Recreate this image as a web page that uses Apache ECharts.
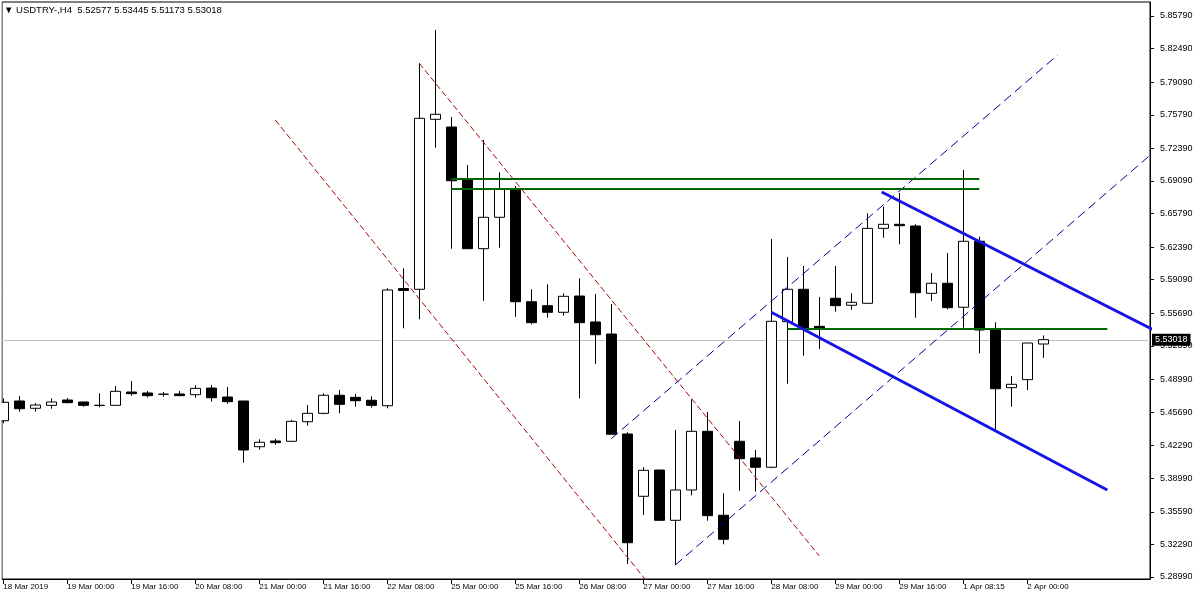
<!DOCTYPE html>
<html><head><meta charset="utf-8">
<script src="https://cdn.jsdelivr.net/npm/echarts@6/dist/echarts.min.js"></script>
<style>html,body{margin:0;padding:0;background:#fff}#c{width:1200px;height:600px}</style>
</head><body><div id="c"></div>
<script>
// ---- candle values (H4 bars, oldest first) ----
const opens = [5.4481,5.4681,5.4607,5.4637,5.4691,5.4671,5.4635,5.4637,5.4772,5.4762,
5.4749,5.4752,5.4745,5.4812,5.4721,5.4681,5.4218,5.4276,5.4273,5.4471,
5.4556,5.4739,5.4718,5.4688,5.4633,5.5820,5.5812,5.7533,5.7455,5.6926,
5.6223,5.6541,5.6824,5.5686,5.5646,5.5579,5.5744,5.5481,5.5359,5.4347,
5.3716,5.3982,5.3473,5.3780,5.4374,5.3524,5.4273,5.4104,5.4010,5.5484,
5.5812,5.5437,5.5721,5.5650,5.5670,5.6429,5.6470,5.6453,5.5771,5.5873,
5.5630,5.6298,5.5400,5.4816,5.4897,5.52577];
const closes = [5.4668,5.4603,5.4640,5.4671,5.4664,5.4637,5.4638,5.4779,5.4755,5.4735,
5.4750,5.4735,5.4809,5.4714,5.4674,5.4185,5.4263,5.4259,5.4475,5.4556,
5.4739,5.4647,5.4684,5.4637,5.5805,5.5800,5.7543,5.7584,5.6911,5.6223,
5.6541,5.6824,5.5686,5.5474,5.5579,5.5741,5.5474,5.5352,5.4344,5.3246,
5.3979,5.3473,5.3780,5.4374,5.3520,5.3281,5.4097,5.4010,5.5488,5.5812,
5.5417,5.5420,5.5646,5.5680,5.6429,5.6470,5.6456,5.5777,5.5873,5.5626,
5.6298,5.5400,5.4805,5.4850,5.5268,5.53018];
const lows = [5.4455,5.4573,5.4573,5.4603,5.4656,5.4623,5.4617,5.4635,5.4735,5.4718,
5.4724,5.4735,5.4714,5.4674,5.4654,5.4056,5.4188,5.4238,5.4266,5.4431,
5.4546,5.4556,5.4623,5.4613,5.4607,5.5417,5.5508,5.7246,5.6223,5.6223,
5.5696,5.6233,5.5534,5.5457,5.5524,5.5545,5.4708,5.5056,5.4344,5.3031,
5.3527,5.3473,5.3020,5.3726,5.3469,5.3230,5.3773,5.3763,5.4000,5.4856,
5.5140,5.5207,5.5585,5.5605,5.5666,5.6334,5.6267,5.5524,5.5693,5.5609,
5.5423,5.5164,5.4380,5.4623,5.4792,5.51173];
const highs = [5.4708,5.4732,5.4661,5.4708,5.4711,5.4671,5.4759,5.4833,5.4883,5.4782,
5.4772,5.4782,5.4843,5.4843,5.4823,5.4681,5.4293,5.4299,5.4489,5.4640,
5.4759,5.4792,5.4752,5.4728,5.5822,5.6024,5.8100,5.8437,5.7556,5.7070,
5.7324,5.6996,5.6858,5.5812,5.5862,5.5771,5.5923,5.5764,5.5663,5.4364,
5.4010,5.3982,5.4387,5.4698,5.4570,5.3746,5.4478,5.4185,5.6321,5.6139,
5.6048,5.5734,5.6048,5.5771,5.6581,5.6648,5.6787,5.6470,5.5977,5.6179,
5.7020,5.6344,5.5478,5.4934,5.5268,5.53445];

// ---- axis ticks ----
const xTickIndex = [0,4,8,12,16,20,24,28,32,36,40,44,48,52,56,60,64];
const xTickLabels = ['18 Mar 2019','19 Mar 00:00','19 Mar 16:00','20 Mar 08:00','21 Mar 00:00',
'21 Mar 16:00','22 Mar 08:00','25 Mar 00:00','25 Mar 16:00','26 Mar 08:00','27 Mar 00:00',
'27 Mar 16:00','28 Mar 08:00','29 Mar 00:00','29 Mar 16:00','1 Apr 08:15','2 Apr 00:00'];
const yTickValues = [5.85790,5.82490,5.79090,5.75790,5.72390,5.69090,5.65790,5.62390,5.59090,
5.55690,5.52390,5.48990,5.45690,5.42290,5.38990,5.35590,5.32290,5.28990];
const yRange = [5.287863, 5.872075];
const xRange = [-0.08125, 71.66875];

// ---- drawn objects: [bar index, price] ----
const redDash1 = [[17, 5.7526], [40.2, 5.2859]];
const redDash2 = [[26, 5.8100], [51, 5.3112]];
const blueDash1 = [[38, 5.4300], [65.9, 5.8184]];
const blueDash2 = [[42, 5.3020], [72, 5.7215]];
const blueSolidUpper = [[54.9, 5.6797], [72, 5.5391]];
const blueSolidLower = [[48, 5.5579], [69, 5.3780]];
const greenLevel1 = [[28, 5.6929], [61, 5.6929]];
const greenLevel2 = [[28, 5.6827], [61, 5.6827]];
const greenLevel3 = [[49, 5.5410], [69, 5.5410]];

const headerText = '\u25BC USDTRY-,H4  5.52577 5.53445 5.51173 5.53018';
const lastClose = closes[closes.length - 1];

const FONT = '"Liberation Sans", "DejaVu Sans", sans-serif';
const candles = opens.map((o, i) => [i, o, closes[i], lows[i], highs[i]]);

function seg(pts, color, width, type) {
  return { type: 'line', data: pts, symbol: 'none', silent: true, clip: true, z: 3,
    animation: false, lineStyle: { color: color, width: width, type: type } };
}

const chart = echarts.init(document.getElementById('c'), null, { renderer: 'canvas' });
chart.setOption({
  animation: false,
  backgroundColor: '#ffffff',
  grid: { left: 2, top: 2, right: 50, bottom: 21, show: true, borderColor: '#000', borderWidth: 1, backgroundColor: 'transparent' },
  xAxis: {
    type: 'value', min: xRange[0], max: xRange[1],
    splitLine: { show: false },
    axisLine: { show: true, onZero: false, lineStyle: { color: '#000', width: 1 } },
    axisTick: { show: true, inside: false, length: 5, customValues: xTickIndex, lineStyle: { color: '#000' } },
    axisLabel: { customValues: xTickIndex, align: 'left', margin: 4, fontSize: 8, fontFamily: FONT, color: '#000',
      formatter: v => { const k = xTickIndex.indexOf(Math.round(v)); return k >= 0 ? xTickLabels[k] : ''; } }
  },
  yAxis: {
    type: 'value', position: 'right', min: yRange[0], max: yRange[1],
    splitLine: { show: false },
    axisLine: { show: true, onZero: false, lineStyle: { color: '#000', width: 1 } },
    axisTick: { show: true, inside: false, length: 4, customValues: yTickValues, lineStyle: { color: '#000' } },
    axisLabel: { customValues: yTickValues, margin: 10, fontSize: 9, fontFamily: FONT, color: '#000',
      formatter: v => v.toFixed(5) }
  },
  graphic: [
    { type: 'rect', left: 0, top: 0, z: 90, shape: { width: 1.5, height: 580 }, style: { fill: '#fff' } },
    { type: 'text', left: 3, top: 4, z: 100,
      style: { text: headerText, font: '9.5px ' + FONT, fill: '#000', backgroundColor: '#fff', padding: [1, 2, 2, 1] } }
  ],
  series: [
    {
      type: 'candlestick', data: candles, encode: { x: 0, y: [1, 2, 3, 4] },
      barWidth: 10, z: 2, clip: true,
      itemStyle: { color: '#ffffff', color0: '#000000', borderColor: '#000000', borderColor0: '#000000', borderWidth: 1 },
      markLine: {
        symbol: 'none', silent: true, animation: false, z: 1,
        lineStyle: { color: '#c0c0c0', type: 'solid', width: 1 },
        label: { position: 'end', formatter: lastClose.toFixed(5), backgroundColor: '#000', color: '#fff',
          padding: [2, 3, 1, 3], fontSize: 9, fontFamily: FONT, distance: 2 },
        data: [{ yAxis: lastClose }]
      }
    },
    seg(redDash1, '#b00000', 1, [6, 3]),
    seg(redDash2, '#b00000', 1, [6, 3]),
    seg(blueDash1, '#000090', 1, [9, 5]),
    seg(blueDash2, '#000090', 1, [9, 5]),
    seg(greenLevel1, '#006400', 2, 'solid'),
    seg(greenLevel2, '#006400', 2, 'solid'),
    seg(greenLevel3, '#006400', 2, 'solid'),
    seg(blueSolidUpper, '#1414e6', 3, 'solid'),
    seg(blueSolidLower, '#1414e6', 3, 'solid')
  ]
});
</script></body></html>
